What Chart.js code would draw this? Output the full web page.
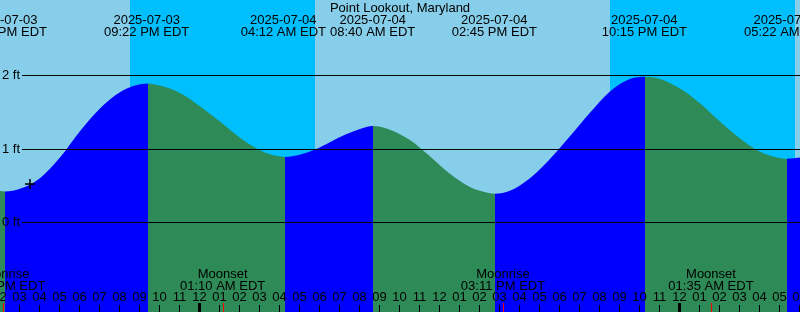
<!DOCTYPE html>
<html>
<head>
<meta charset="utf-8">
<script src="https://cdn.jsdelivr.net/npm/chart.js@4.4.1/dist/chart.umd.min.js"></script>
<style>
html,body{margin:0;padding:0;background:#fff;overflow:hidden}
canvas{display:block}
</style>
</head>
<body>
<canvas id="c" width="800" height="312"></canvas>
<script>
// All times are hours measured from 2025-07-04 00:00 EDT
const stationTitle = 'Point Lookout, Maryland';

// Tide curve (hours, feet)
const tideHours = [-10.05, -9.7167, -8.97, -7.97, -6.97, -5.97, -4.97, -3.97, -3.22, -2.5667,
  -1.97, -0.97, 0.03, 1.03, 2.03, 3.03, 3.53, 4.2833,
  5.03, 5.78, 6.53, 7.28, 8.03, 8.6833,
  9.53, 10.53, 11.53, 12.53, 13.53, 14.03, 14.7833,
  15.53, 16.53, 17.53, 18.53, 19.53, 20.53, 21.53, 22.2833,
  23.03, 24.03, 25.03, 26.03, 27.03, 28.03, 28.78, 29.3833, 30.03, 30.53];
const tideLevels = [0.43, 0.42, 0.455, 0.60, 0.88, 1.24, 1.55, 1.77, 1.86, 1.89,
  1.86, 1.76, 1.58, 1.37, 1.15, 0.98, 0.925, 0.89,
  0.92, 0.99, 1.09, 1.19, 1.27, 1.31,
  1.26, 1.12, 0.90, 0.66, 0.48, 0.43, 0.39,
  0.43, 0.60, 0.86, 1.17, 1.49, 1.78, 1.95, 1.98,
  1.95, 1.82, 1.62, 1.37, 1.14, 0.96, 0.89, 0.865, 0.88, 0.91];

// High / low tide events (top labels)
const extremeHours = [-9.75, -2.633, 4.2, 8.667, 14.75, 22.25, 29.367];
const extremeDates = ['2025-07-03', '2025-07-03', '2025-07-04', '2025-07-04', '2025-07-04', '2025-07-04', '2025-07-05'];
const extremeTimes = ['02:15 PM EDT', '09:22 PM EDT', '04:12 AM EDT', '08:40 AM EDT', '02:45 PM EDT', '10:15 PM EDT', '05:22 AM EDT'];

// Moon events (bottom labels)
const moonHours = [-9.83, 1.167, 15.183, 25.583];
const moonEvents = ['Moonrise', 'Moonset', 'Moonrise', 'Moonset'];
const moonTimes = ['02:10 PM EDT', '01:10 AM EDT', '03:11 PM EDT', '01:35 AM EDT'];

// Night intervals
const sunsetHours = [-3.467, 20.533];
const sunriseHours = [5.783, 29.783];

// Level grid
const levelTicks = [0, 1, 2];
const levelTickLabels = ['0 ft', '1 ft', '2 ft'];

// Current-time mark
const nowHour = -8.467;
const nowLevel = 0.52;

const X_MIN = -9.9667, X_MAX = 30.0333;
const Y_MIN = -1.2204, Y_MAX = 3.0245;
const DAY = '#87CEEB', NIGHT = '#00BFFF', RISE = '#0000FF', FALL = '#2E8B57';
const FONT = '13px "Liberation Sans", Arial, sans-serif';

const tidePoints = tideHours.map((h, i) => ({x: h, y: tideLevels[i]}));

function hourLabel(h) {
  let hh = ((Math.round(h) % 12) + 12) % 12;
  if (hh === 0) hh = 12;
  return String(hh).padStart(2, '0');
}

const decor = {
  id: 'decor',
  beforeDraw(chart) {
    const {ctx, chartArea: a, scales: {x}} = chart;
    ctx.save();
    ctx.fillStyle = DAY;
    ctx.fillRect(0, 0, chart.width, chart.height);
    ctx.fillStyle = NIGHT;
    for (let i = 0; i < sunsetHours.length; i++) {
      const x0 = Math.round(x.getPixelForValue(sunsetHours[i]));
      const x1 = Math.round(x.getPixelForValue(sunriseHours[i]));
      ctx.fillRect(x0, a.top, x1 - x0, a.height);
    }
    ctx.restore();
  },
  afterDatasetsDraw(chart) {
    const {ctx, chartArea: a, scales: {x, y}} = chart;
    ctx.save();
    ctx.strokeStyle = '#000';
    ctx.lineWidth = 1;
    ctx.font = FONT;
    ctx.fillStyle = '#000';
    ctx.textBaseline = 'alphabetic';
    levelTicks.forEach((v, i) => {
      const py = Math.round(y.getPixelForValue(v)) + 0.5;
      ctx.beginPath();
      ctx.moveTo(22, py);
      ctx.lineTo(a.right, py);
      ctx.stroke();
      ctx.textAlign = 'left';
      ctx.fillText(levelTickLabels[i], 2, py + 3.5);
    });
    ctx.textAlign = 'center';
    ctx.fillText(stationTitle, (a.left + a.right) / 2, 12);
    extremeHours.forEach((h, i) => {
      const px = x.getPixelForValue(h);
      ctx.fillText(extremeDates[i], px, 24);
      ctx.fillText(extremeTimes[i], px, 36);
    });
    moonHours.forEach((h, i) => {
      const px = x.getPixelForValue(h);
      ctx.fillText(moonEvents[i], px, 278);
      ctx.fillText(moonTimes[i], px, 290);
    });
    for (let h = Math.floor(X_MIN); h <= Math.ceil(X_MAX); h++) {
      const px = Math.round(x.getPixelForValue(h));
      ctx.fillStyle = '#000';
      ctx.fillText(hourLabel(h), px + 0.5, 301);
      if (((h % 24) + 24) % 24 === 0) {
        ctx.fillRect(px - 1, 303, 3, 9);
      } else {
        ctx.fillRect(px, 305, 1, 7);
      }
    }
    ctx.fillStyle = '#FF0000';
    moonHours.forEach(h => {
      const px = Math.round(x.getPixelForValue(h));
      ctx.fillRect(px, 303, 1, 9);
    });
    ctx.restore();
  }
};

new Chart(document.getElementById('c'), {
  type: 'line',
  data: {
    datasets: [
      {
        type: 'scatter',
        data: [{x: nowHour, y: nowLevel}],
        pointStyle: 'cross',
        pointRadius: 5,
        pointBorderColor: '#000',
        pointBorderWidth: 1.5,
        showLine: false,
        order: 0
      },
      {
        data: tidePoints,
        borderWidth: 0,
        borderColor: 'transparent',
        backgroundColor: FALL,
        pointRadius: 0,
        fill: 'start',
        cubicInterpolationMode: 'monotone',
        segment: {
          backgroundColor: c => (c.p1.y < c.p0.y ? RISE : FALL)
        },
        order: 1
      }
    ]
  },
  options: {
    responsive: false,
    animation: false,
    devicePixelRatio: 1,
    layout: {padding: 0, autoPadding: false},
    events: [],
    plugins: {legend: {display: false}, tooltip: {enabled: false}, title: {display: false}},
    scales: {
      x: {type: 'linear', min: X_MIN, max: X_MAX, display: false},
      y: {type: 'linear', min: Y_MIN, max: Y_MAX, display: false}
    }
  },
  plugins: [decor]
});
</script>
</body>
</html>
